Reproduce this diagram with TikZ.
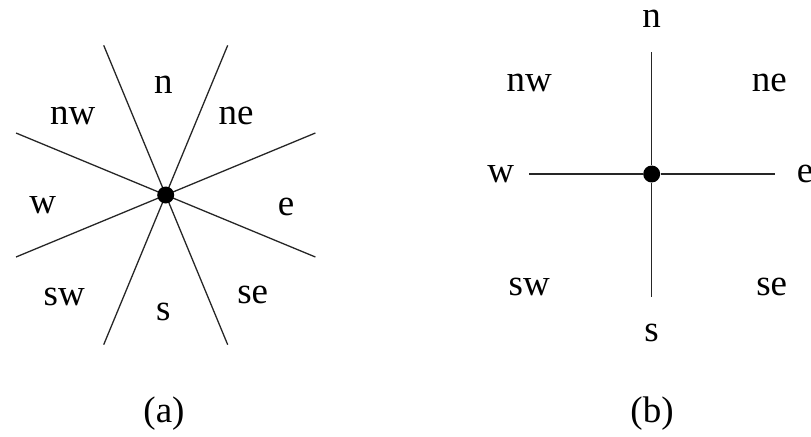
\documentclass[tikz,border=0pt]{standalone}
\usepackage{fontspec}
\setmainfont{Liberation Serif}
\usetikzlibrary{positioning}

\tikzset{
  dirlabel/.style={font=\fontsize{18.5}{22}\selectfont, inner sep=0pt},
  hub/.style={circle, fill=black, inner sep=0pt, minimum size=8.5pt},
  ray/.style={line width=0.65pt, black!85},
}

\begin{document}
\begin{tikzpicture}[x=0.5pt, y=-0.5pt]
\useasboundingbox (0,0) rectangle (811,436);

%---------------------------------------
% (a) eight sectors
%---------------------------------------
\begin{scope}[shift={(165.7,195)}]
  \coordinate (ra1) at (22.5:162);
  \coordinate (ra2) at (67.5:162);
  \coordinate (ra3) at (112.5:162);
  \coordinate (ra4) at (157.5:162);
  \coordinate (ra5) at (202.5:162);
  \coordinate (ra6) at (247.5:162);
  \coordinate (ra7) at (292.5:162);
  \coordinate (ra8) at (337.5:162);

  \draw[ray] (ra1) -- (ra5) (ra2) -- (ra6) (ra3) -- (ra7) (ra4) -- (ra8);
  \node[hub] (ca) at (0,0) {};
\end{scope}

\node[dirlabel] (an)  at (163.3,85)    {n};
\node[dirlabel] (anw) at (72.7,116)    {nw};
\node[dirlabel] (ane) at (236,116)     {ne};
\node[dirlabel] (aw)  at (42.7,205)    {w};
\node[dirlabel] (ae)  at (286,206.7)   {e};
\node[dirlabel] (asw) at (64.3,296.7)  {sw};
\node[dirlabel] (as)  at (163.3,311.7) {s};
\node[dirlabel] (ase) at (252.7,295)   {se};

\node[dirlabel] (capa) at (164,414) {(a)};

%---------------------------------------
% (b) two axes
%---------------------------------------
\node[hub] (cb) at (651.7,174) {};
\coordinate (rbn) at (651.7,51.7);
\coordinate (rbs) at (651.7,296.7);
\coordinate (rbw) at (529.3,174);
\coordinate (rbe) at (775,174);

\draw[ray] (cb) -- (rbn);
\draw[ray] (cb) -- (rbs);
\draw[ray] (cb) -- (rbw);
\draw[ray] (cb) -- (rbe);

\node[dirlabel] (bn)  at (651.7,18.3)  {n};
\node[dirlabel] (bnw) at (529.3,83.3)  {nw};
\node[dirlabel] (bne) at (769.3,83.3)  {ne};
\node[dirlabel] (bw)  at (500.7,174)   {w};
\node[dirlabel] (be)  at (805,174)     {e};
\node[dirlabel] (bsw) at (529.3,287.3) {sw};
\node[dirlabel] (bs)  at (651.7,333.3) {s};
\node[dirlabel] (bse) at (771.7,286.7) {se};

\node[dirlabel] (capb) at (652,414) {(b)};

\end{tikzpicture}
\end{document}
